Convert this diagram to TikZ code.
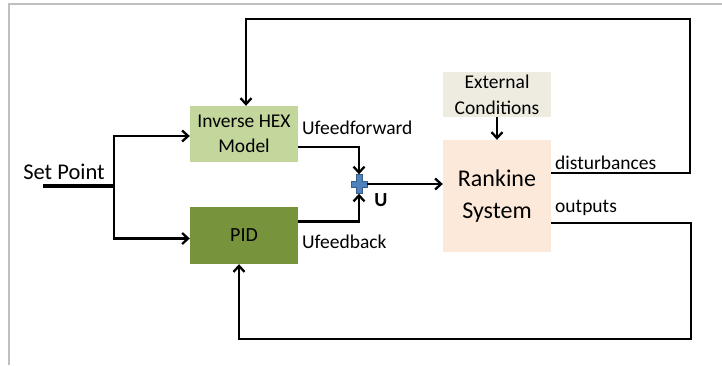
\documentclass[tikz,border=0pt]{standalone}
\usepackage{fontspec}
\setmainfont{Carlito}
\usepackage{tikz}
\usetikzlibrary{arrows.meta,calc,positioning}
\definecolor{hexgreen}{HTML}{C3D69B}
\definecolor{pidgreen}{HTML}{77933C}
\definecolor{extgray}{HTML}{EEECE1}
\definecolor{rankpeach}{HTML}{FDE9D9}
\definecolor{plusblue}{HTML}{4F81BD}
\definecolor{plusedge}{HTML}{385D8A}
\tikzset{
  block/.style={minimum width=108pt, inner sep=0pt, align=center},
  arr/.style={line width=2.3pt, -{Straight Barb[length=6pt,width=11pt]}},
  lbl/.style={anchor=west, inner sep=0pt, font=\fontsize{19.5}{24}\selectfont},
}
\begin{document}
\begin{tikzpicture}[x=1pt,y=-1pt]
	\useasboundingbox (0,0) rectangle (722,365);
	\draw[gray!50, line width=1.2pt] (9,365) -- (9,4) -- (722,4);
	% Bloecke
		\node (hex) at (244,134) [block, fill=hexgreen, minimum height=56pt, font=\fontsize{19.5}{25}\selectfont] {Inverse HEX\\Model};
		\node (pid) at (244,235.5) [block, fill=pidgreen, minimum height=57pt, font=\fontsize{20}{24}\selectfont] {PID};
		\node (ext) at (497,94.5) [block, fill=extgray, minimum height=45pt, font=\fontsize{19.5}{26}\selectfont] {External\\Conditions};
		\node (rank) at (497,196) [block, fill=rankpeach, minimum height=112pt, font=\fontsize{24}{32}\selectfont] {Rankine\\System};
		\node (plus) at (359,184) [minimum width=16pt, minimum height=19pt, inner sep=0pt] {};
		\filldraw[fill=plusblue, draw=plusedge, line width=0.6pt] (plus.center) ++(-3,-9.5) -- ++(6,0) -- ++(0,6.5) -- ++(5,0) -- ++(0,6) -- ++(-5,0) -- ++(0,6.5) -- ++(-6,0) -- ++(0,-6.5) -- ++(-5,0) -- ++(0,-6) -- ++(5,0) -- cycle;
		\node (sp) at (64,172) [font=\fontsize{22.5}{26}\selectfont, inner sep=0pt] {Set Point};
		\coordinate (spin) at (43,186);
		\coordinate (split) at (114,186);
		\coordinate (topright) at (690,19);
		\coordinate (botright) at (691,339);
	% Beschriftungen
		\node (ff) at (302,128) [lbl] {Ufeedforward};
		\node (fb) at (302,242) [lbl] {Ufeedback};
		\node (u) at (381,200) [font=\fontsize{20}{24}\selectfont\bfseries, inner sep=0pt] {U};
		\node (dist) at (555,163) [lbl] {disturbances};
		\node (out) at (555,208) [lbl] {outputs};
	% Verbindungen
		\draw[line width=3.2pt] (spin) -- (split);
		\draw[arr] (split) |- ([yshift=-2pt]hex.west);
		\draw[arr] (split) |- ([yshift=-3pt]pid.west);
		\draw[arr] ([yshift=-13pt]hex.east) -| (plus.north);
		\draw[arr] ([yshift=14pt]pid.east) -| (plus.south);
		\draw[arr] (plus.east) -- (plus.east -| rank.west);
		\draw[arr] (ext) -- (rank);
		\draw[arr] ([yshift=23pt]rank.east) -| (topright) -| ([xshift=2pt]hex.north);
		\draw[arr] ([yshift=-27pt]rank.east) -| (botright) -| ([xshift=-5pt]pid.south);
\end{tikzpicture}
\end{document}
